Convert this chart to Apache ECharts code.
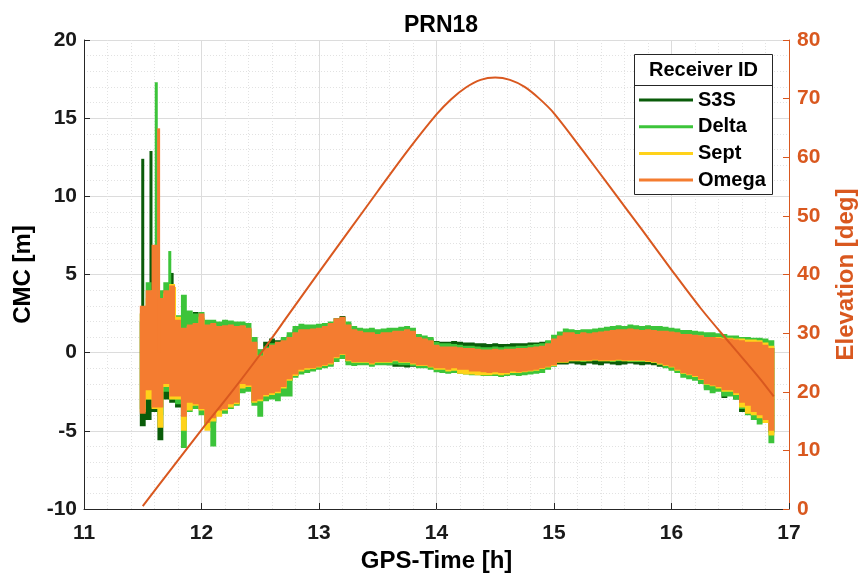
<!DOCTYPE html>
<html>
<head>
<meta charset="utf-8">
<title>PRN18</title>
<script src="https://cdn.jsdelivr.net/npm/echarts@6.0.0/dist/echarts.min.js"></script>
<style>
  html, body { margin: 0; padding: 0; background: #fff; }
  #chart { width: 858px; height: 578px; }
</style>
</head>
<body>
<div id="chart"></div>
<script>
// CMC samples: one envelope cell every STEP hours starting at T0
const T0 = 11.5;
const STEP = 0.05;

const receivers = ['S3S', 'Delta', 'Sept', 'Omega'];

// S3S envelope (m)
const s3sHi = [
  2.0, 3.0, 4.0, 3.0, 3.5, 4.0, 2.0, 1.8, 2.4, 2.6, 2.2, 1.7,
  1.8, 1.6, 1.7, 1.7, 1.6, 1.7, 1.5, 1.0, 0.2, 0.7, 0.9, 0.8,
  0.9, 1.1, 1.5, 1.6, 1.7, 1.6, 1.65, 1.7, 1.9, 2.2, 2.35, 1.9,
  1.5, 1.4, 1.3, 1.3, 1.2, 1.3, 1.3, 1.4, 1.4, 1.5, 1.4, 1.1,
  1.0, 0.9, 0.75, 0.7, 0.7, 0.75, 0.7, 0.65, 0.65, 0.6, 0.6, 0.55,
  0.6, 0.55, 0.55, 0.6, 0.6, 0.6, 0.65, 0.65, 0.7, 0.75, 0.9, 1.1,
  1.2, 1.2, 1.15, 1.2, 1.2, 1.25, 1.3, 1.35, 1.4, 1.45, 1.45, 1.5,
  1.45, 1.4, 1.45, 1.4, 1.35, 1.35, 1.3, 1.25, 1.15, 1.15, 1.1, 1.05,
  0.95, 0.95, 0.9, 0.85, 0.85, 0.8, 0.75, 0.65, 0.65, 0.65, 0.5, 0.3
];
const s3sLo = [
  -4.7, -4.3, -3.8, -5.6, -3.0, -3.2, -3.5, -4.3, -3.4, -3.3, -3.6, -4.6,
  -4.5, -3.8, -3.7, -3.4, -3.3, -2.2, -2.4, -3.2, -3.1, -2.8, -2.7, -2.6,
  -2.3, -1.8, -1.5, -1.2, -1.1, -1.1, -1.0, -0.9, -0.8, -0.4, -0.2, -0.6,
  -0.7, -0.7, -0.7, -0.75, -0.7, -0.75, -0.8, -0.9, -0.9, -0.95, -0.9, -0.85,
  -0.85, -0.9, -1.0, -1.05, -1.1, -1.05, -1.1, -1.1, -1.15, -1.2, -1.2, -1.25,
  -1.2, -1.25, -1.25, -1.2, -1.2, -1.15, -1.1, -1.05, -1.0, -0.95, -0.85, -0.75,
  -0.75, -0.7, -0.75, -0.8, -0.7, -0.75, -0.8, -0.7, -0.75, -0.8, -0.75, -0.7,
  -0.75, -0.8, -0.75, -0.8, -0.9, -0.95, -1.05, -1.2, -1.35, -1.45, -1.55, -1.8,
  -2.3, -2.2, -2.3, -2.9, -2.6, -3.0, -3.8, -3.5, -3.9, -4.1, -4.4, -5.1
];

// Delta envelope (m)
const deltaHi = [
  2.5, 4.5, 4.0, 4.0, 4.5, 4.0, 2.4, 3.7, 2.7, 2.5, 2.6, 2.1,
  2.1, 2.0, 2.1, 2.05, 2.0, 2.0, 1.9, 1.0, 0.2, 0.4, 0.6, 0.7,
  1.0, 1.3, 1.7, 1.85, 1.8, 1.8, 1.85, 1.9, 2.0, 2.2, 2.25, 2.0,
  1.7, 1.6, 1.55, 1.6, 1.5, 1.55, 1.6, 1.6, 1.65, 1.7, 1.6, 1.2,
  1.1, 1.0, 0.7, 0.6, 0.6, 0.55, 0.5, 0.45, 0.45, 0.4, 0.35, 0.35,
  0.4, 0.35, 0.4, 0.4, 0.45, 0.45, 0.5, 0.55, 0.6, 0.8, 1.15, 1.35,
  1.55, 1.5, 1.45, 1.5, 1.5, 1.55, 1.6, 1.65, 1.7, 1.75, 1.7, 1.8,
  1.75, 1.7, 1.75, 1.7, 1.7, 1.65, 1.6, 1.55, 1.45, 1.45, 1.4, 1.35,
  1.3, 1.3, 1.25, 1.2, 1.1, 1.1, 1.0, 1.0, 0.95, 0.95, 0.9, 0.8
];
const deltaLo = [
  -3.6, -3.0, -3.0, -4.0, -2.5, -3.0, -3.3, -6.1, -3.8, -3.6, -4.0, -4.8,
  -6.0, -4.0, -3.9, -3.6, -3.4, -2.6, -2.5, -3.4, -4.1, -3.1, -3.0, -3.1,
  -2.8, -2.8, -1.6, -1.4, -1.3, -1.2, -1.1, -1.0, -0.9, -0.6, -0.4, -0.8,
  -0.85, -0.8, -0.8, -0.9, -0.8, -0.8, -0.8, -0.75, -0.8, -0.8, -0.85, -1.0,
  -1.0, -1.1, -1.25, -1.3, -1.35, -1.3, -1.35, -1.4, -1.45, -1.45, -1.5, -1.5,
  -1.5, -1.55, -1.5, -1.45, -1.5, -1.45, -1.4, -1.35, -1.3, -1.1, -0.9, -0.6,
  -0.6, -0.55, -0.55, -0.6, -0.55, -0.5, -0.55, -0.55, -0.6, -0.55, -0.55, -0.6,
  -0.6, -0.6, -0.6, -0.65, -0.8, -1.0, -1.15, -1.3, -1.6, -1.7, -1.8, -2.0,
  -2.4, -2.6, -2.5, -2.8, -2.8, -3.0, -3.6, -4.0, -4.3, -4.6, -4.5, -5.8
];

// Sept envelope (m)
const septHi = [
  2.5, 3.5, 4.0, 3.0, 3.8, 4.4, 2.3, 1.5, 1.7, 1.8, 2.3, 1.7,
  1.8, 1.6, 1.6, 1.7, 1.6, 1.7, 1.5, 0.6, -0.2, 0.2, 0.45, 0.65,
  0.75, 0.95, 1.25, 1.45, 1.45, 1.5, 1.55, 1.65, 1.85, 2.1, 2.2, 1.75,
  1.45, 1.35, 1.25, 1.25, 1.15, 1.25, 1.25, 1.35, 1.35, 1.45, 1.35, 0.95,
  0.85, 0.75, 0.45, 0.35, 0.35, 0.35, 0.3, 0.25, 0.25, 0.2, 0.15, 0.15,
  0.2, 0.15, 0.2, 0.2, 0.25, 0.25, 0.3, 0.35, 0.4, 0.55, 0.85, 1.05,
  1.25, 1.25, 1.15, 1.25, 1.2, 1.25, 1.3, 1.35, 1.4, 1.45, 1.45, 1.5,
  1.45, 1.4, 1.45, 1.4, 1.35, 1.35, 1.3, 1.25, 1.15, 1.15, 1.1, 1.1,
  1.0, 1.0, 1.0, 0.95, 0.95, 0.9, 0.9, 0.85, 0.85, 0.8, 0.65, 0.45
];
const septLo = [
  -3.8, -3.0, -3.6, -4.8, -2.2, -3.0, -3.0, -5.0, -3.7, -3.4, -3.7, -5.0,
  -4.4, -4.1, -3.7, -3.5, -3.3, -2.3, -2.2, -3.2, -3.1, -2.8, -2.7, -2.6,
  -2.3, -1.8, -1.5, -1.2, -1.1, -1.05, -0.95, -0.85, -0.75, -0.35, -0.15, -0.55,
  -0.65, -0.65, -0.65, -0.75, -0.65, -0.65, -0.65, -0.55, -0.65, -0.65, -0.75, -0.85,
  -0.85, -0.95, -1.1, -1.1, -1.2, -1.15, -1.35, -1.4, -1.4, -1.45, -1.45, -1.45,
  -1.4, -1.45, -1.4, -1.3, -1.3, -1.25, -1.2, -1.15, -1.05, -0.95, -0.85, -0.65,
  -0.65, -0.55, -0.55, -0.55, -0.55, -0.5, -0.55, -0.55, -0.55, -0.5, -0.55, -0.55,
  -0.55, -0.55, -0.6, -0.65, -0.75, -0.85, -0.95, -1.15, -1.35, -1.45, -1.55, -1.75,
  -2.05, -2.15, -2.3, -2.5, -2.5, -2.7, -3.5, -3.9, -4.0, -4.2, -4.5, -5.3
];

// Omega envelope (m)
const omegaHi = [
  3.0, 4.0, 6.9, 3.5, 4.0, 4.3, 2.1, 1.6, 1.8, 1.9, 2.5, 1.8,
  1.9, 1.7, 1.75, 1.8, 1.7, 1.75, 1.6, 0.7, -0.2, 0.3, 0.5, 0.7,
  0.8, 1.0, 1.3, 1.5, 1.5, 1.55, 1.6, 1.7, 1.9, 2.2, 2.3, 1.8,
  1.5, 1.4, 1.3, 1.3, 1.2, 1.3, 1.3, 1.4, 1.4, 1.5, 1.4, 1.0,
  0.9, 0.8, 0.5, 0.4, 0.4, 0.4, 0.35, 0.3, 0.3, 0.25, 0.2, 0.2,
  0.25, 0.2, 0.25, 0.25, 0.3, 0.3, 0.35, 0.4, 0.45, 0.6, 0.9, 1.1,
  1.3, 1.3, 1.2, 1.3, 1.25, 1.3, 1.35, 1.4, 1.45, 1.5, 1.5, 1.55,
  1.5, 1.45, 1.5, 1.45, 1.4, 1.4, 1.35, 1.3, 1.2, 1.2, 1.15, 1.1,
  1.0, 1.0, 0.95, 0.9, 0.9, 0.85, 0.8, 0.7, 0.7, 0.7, 0.5, 0.3
];
const omegaLo = [
  -3.9, -2.4, -3.5, -3.5, -2.0, -2.8, -2.8, -4.1, -3.2, -3.3, -3.6, -4.5,
  -4.2, -3.7, -3.6, -3.3, -3.2, -2.0, -2.1, -3.1, -3.0, -2.7, -2.6, -2.5,
  -2.2, -1.7, -1.4, -1.1, -1.0, -1.0, -0.9, -0.8, -0.7, -0.3, -0.1, -0.5,
  -0.6, -0.6, -0.6, -0.7, -0.6, -0.6, -0.6, -0.5, -0.6, -0.6, -0.7, -0.8,
  -0.8, -0.9, -1.0, -1.0, -1.1, -1.0, -1.1, -1.1, -1.2, -1.2, -1.25, -1.3,
  -1.25, -1.3, -1.3, -1.2, -1.25, -1.2, -1.15, -1.1, -1.0, -0.9, -0.8, -0.6,
  -0.6, -0.5, -0.5, -0.5, -0.5, -0.45, -0.5, -0.5, -0.5, -0.45, -0.5, -0.5,
  -0.5, -0.5, -0.55, -0.6, -0.7, -0.8, -0.9, -1.1, -1.3, -1.4, -1.5, -1.7,
  -2.0, -2.1, -2.2, -2.4, -2.4, -2.6, -3.2, -3.4, -3.8, -4.0, -4.3, -5.0
];

// Isolated outliers at the start of the pass: [time h, from m, to m]
const s3sSpikes = [[11.50, 0, 12.4], [11.57, 0, 12.9], [11.75, 0, 5.1]];
const deltaSpikes = [[11.615, 0, 17.3], [11.73, 0, 6.5]];
const septSpikes = [[11.77, 0, 4.2]];
const omegaSpikes = [[11.635, 0, 14.35]];

// Satellite elevation (deg)
const elevTime = [11.5, 11.75, 12.0, 12.25, 12.5, 12.75, 13.0, 13.25, 13.5, 13.75, 14.0, 14.125,
  14.25, 14.375, 14.5, 14.625, 14.75, 14.875, 15.0, 15.25, 15.5, 15.75, 16.0, 16.25, 16.5, 16.75, 16.87];
const elevDeg = [0.5, 7.0, 13.5, 19.8, 26.4, 33.4, 40.4, 47.3, 54.2, 61.0, 67.3, 69.9,
  71.9, 73.2, 73.6, 73.2, 72.0, 70.0, 67.5, 61.0, 54.3, 47.6, 40.8, 34.2, 28.2, 22.3, 19.2];

const colors = { S3S: '#0a5c0a', Delta: '#3cc43a', Sept: '#ffd21a', Omega: '#f47c30' };
const elevColor = '#d9581f';
const axisColor = '#262626';
const FONT = '"Liberation Sans", Arial, Helvetica, sans-serif';

const cmcTime = omegaHi.map((_, i) => +(T0 + i * STEP).toFixed(3));

// One stepped polygon per receiver: upper envelope left-to-right, lower envelope back
function bandSeries(name, lo, hi) {
  const color = colors[name];
  const rows = cmcTime.map((t, i) => [t, lo[i], hi[i]]);
  return {
    type: 'custom', name, coordinateSystem: 'cartesian2d',
    xAxisIndex: 0, yAxisIndex: 0, silent: true, clip: true,
    itemStyle: { color },
    encode: { x: 0, y: [1, 2] },
    renderItem: (params, api) => {
      if (params.dataIndex !== 0) return null;
      const upper = [], lower = [];
      rows.forEach(([t, l, h]) => {
        upper.push(api.coord([t - STEP / 2, h]), api.coord([t + STEP / 2, h]));
        lower.push(api.coord([t - STEP / 2, l]), api.coord([t + STEP / 2, l]));
      });
      return {
        type: 'polygon',
        shape: { points: upper.concat(lower.reverse()) },
        style: { fill: color }
      };
    },
    data: rows
  };
}

function spikeSeries(name, spikes) {
  const color = colors[name];
  return {
    type: 'custom', name, coordinateSystem: 'cartesian2d',
    xAxisIndex: 0, yAxisIndex: 0, silent: true, clip: true,
    itemStyle: { color },
    encode: { x: 0, y: [1, 2] },
    renderItem: (params, api) => {
      const a = api.coord([api.value(0), api.value(1)]);
      const b = api.coord([api.value(0), api.value(2)]);
      return {
        type: 'line',
        shape: { x1: a[0], y1: a[1], x2: b[0], y2: b[1] },
        style: { stroke: color, lineWidth: 3 }
      };
    },
    data: spikes
  };
}

const labelStyle = { fontSize: 21, fontWeight: 'bold', fontFamily: FONT };
const nameStyle = { fontSize: 24, fontWeight: 'bold', fontFamily: FONT };
const gridMajor = { show: true, lineStyle: { color: '#dcdcdc', width: 1 } };
const gridMinor = { show: true, lineStyle: { color: '#e2e2e2', width: 1, type: [1, 2] } };

const chart = echarts.init(document.getElementById('chart'), null, { renderer: 'canvas' });

chart.setOption({
  animation: false,
  backgroundColor: '#fff',
  title: {
    text: 'PRN18', left: 436, top: 9, textAlign: 'center',
    textStyle: { fontSize: 23, fontWeight: 'bold', fontFamily: FONT, color: '#000' }
  },
  grid: { left: 84, right: 69, top: 40, bottom: 69, containLabel: false, outerBoundsMode: 'none' },
  legend: {
    data: receivers, orient: 'vertical', left: 639, top: 90, padding: 0, z: 10,
    itemGap: 6.7, itemWidth: 54, itemHeight: 3, icon: 'rect', selectedMode: false,
    textStyle: { fontSize: 20, fontWeight: 'bold', fontFamily: FONT, color: '#000', lineHeight: 20 }
  },
  graphic: [
    { type: 'rect', z: 5, shape: { x: 634.5, y: 54.5, width: 138, height: 140 },
      style: { fill: '#fff', stroke: axisColor, lineWidth: 1 } },
    { type: 'line', z: 6, shape: { x1: 634.5, y1: 85.5, x2: 772.5, y2: 85.5 },
      style: { stroke: axisColor, lineWidth: 1 } },
    { type: 'text', z: 6, style: { text: 'Receiver ID', x: 703.5, y: 70,
      textAlign: 'center', textVerticalAlign: 'middle',
      font: 'bold 20px ' + FONT, fill: '#000' } }
  ],
  xAxis: {
    type: 'value', min: 11, max: 17, interval: 1,
    name: 'GPS-Time [h]', nameLocation: 'middle', nameGap: 40,
    nameTextStyle: Object.assign({ color: '#000' }, nameStyle),
    axisLine: { show: true, onZero: false, lineStyle: { color: axisColor } },
    axisTick: { show: true, inside: true, length: 6, lineStyle: { color: axisColor } },
    axisLabel: Object.assign({ color: '#1a1a1a', margin: 14 }, labelStyle),
    splitLine: gridMajor,
    minorTick: { show: false, splitNumber: 5 },
    minorSplitLine: gridMinor
  },
  yAxis: [
    {
      type: 'value', position: 'left', min: -10, max: 20, interval: 5,
      name: 'CMC [m]', nameLocation: 'middle', nameGap: 49,
      nameTextStyle: Object.assign({ color: '#000' }, nameStyle),
      axisLine: { show: true, onZero: false, lineStyle: { color: axisColor } },
      axisTick: { show: true, inside: true, length: 6, lineStyle: { color: axisColor } },
      axisLabel: Object.assign({ color: '#1a1a1a', margin: 7 }, labelStyle),
      splitLine: gridMajor,
      minorTick: { show: false, splitNumber: 5 },
      minorSplitLine: gridMinor
    },
    {
      type: 'value', position: 'right', min: 0, max: 80, interval: 10,
      name: 'Elevation [deg]', nameLocation: 'middle', nameGap: 45,
      nameTextStyle: Object.assign({ color: elevColor }, nameStyle),
      axisLine: { show: true, onZero: false, lineStyle: { color: elevColor } },
      axisTick: { show: true, inside: true, length: 6, lineStyle: { color: elevColor } },
      axisLabel: Object.assign({ color: elevColor, margin: 8 }, labelStyle),
      splitLine: { show: false }
    }
  ],
  series: [
    bandSeries('S3S', s3sLo, s3sHi),
    spikeSeries('S3S', s3sSpikes),
    bandSeries('Delta', deltaLo, deltaHi),
    spikeSeries('Delta', deltaSpikes),
    bandSeries('Sept', septLo, septHi),
    spikeSeries('Sept', septSpikes),
    bandSeries('Omega', omegaLo, omegaHi),
    spikeSeries('Omega', omegaSpikes),
    {
      type: 'line', name: 'Elevation', yAxisIndex: 1, silent: true,
      showSymbol: false, smooth: 0.3, z: 3,
      lineStyle: { color: elevColor, width: 2 },
      itemStyle: { color: elevColor },
      data: elevTime.map((t, i) => [t, elevDeg[i]])
    }
  ]
});
</script>
</body>
</html>
